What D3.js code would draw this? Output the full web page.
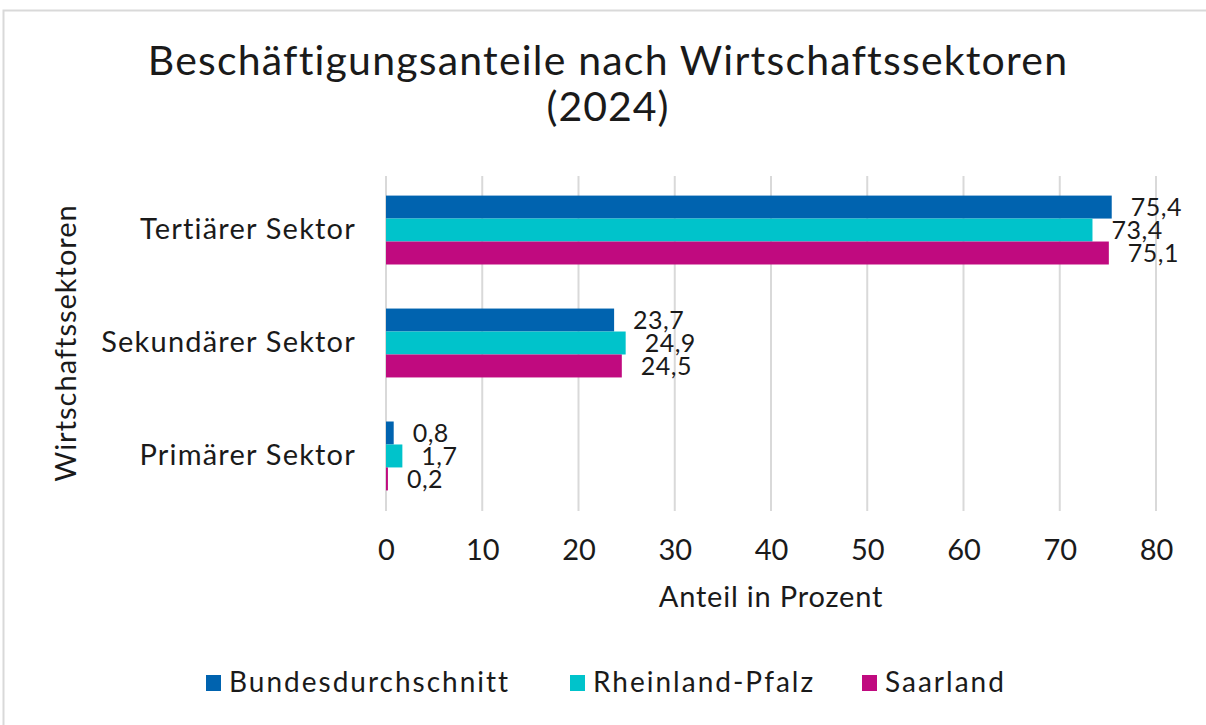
<!DOCTYPE html>
<html>
<head>
<meta charset="utf-8">
<script src="https://cdn.jsdelivr.net/npm/d3@7"></script>
<style>
  body { margin: 0; background: #fff; }
  text { font-family: "Lato", "Noto Sans", sans-serif; fill: #1a1a1a; }
</style>
</head>
<body>
<div id="chart"></div>
<script>
var categories = ["Tertiärer Sektor", "Sekundärer Sektor", "Primärer Sektor"];
var seriesNames = ["Bundesdurchschnitt", "Rheinland-Pfalz", "Saarland"];
var bundValues = [75.4, 23.7, 0.8];
var rlpValues = [73.4, 24.9, 1.7];
var saarValues = [75.1, 24.5, 0.2];
var xTicks = [0, 10, 20, 30, 40, 50, 60, 70, 80];

var seriesValues = [bundValues, rlpValues, saarValues];
var colors = ["#0063af", "#00c3cb", "#c00a7f"];

var width = 1206;
var height = 725;
var plot = { left: 386, right: 1156, top: 173, bottom: 513 };
var gridTop = 176, gridBottom = 511;

var svg = d3.select("#chart")
    .append("svg")
    .attr("width", width)
    .attr("height", height);

// outer border
svg.append("rect")
    .attr("x", 3.5).attr("y", 10.5)
    .attr("width", 1230).attr("height", 740)
    .attr("fill", "none")
    .attr("stroke", "#d9d9d9")
    .attr("stroke-width", 2);

// title
svg.append("text")
    .attr("x", 608).attr("y", 75)
    .attr("text-anchor", "middle")
    .style("font-size", "41px")
    .style("letter-spacing", "1.2px")
    .text("Beschäftigungsanteile nach Wirtschaftssektoren");
svg.append("text")
    .attr("x", 608).attr("y", 121)
    .attr("text-anchor", "middle")
    .style("font-size", "41px")
    .style("letter-spacing", "1px")
    .text("(2024)");

var x = d3.scaleLinear()
    .domain([0, 80])
    .range([plot.left, plot.right]);

var y = d3.scaleBand()
    .domain(categories)
    .range([plot.top, plot.bottom])
    .paddingInner(0.39)
    .paddingOuter(0.2);

var ySub = d3.scaleBand()
    .domain(seriesNames)
    .range([0, y.bandwidth()]);

// gridlines
svg.append("g")
    .selectAll("line")
    .data(xTicks)
    .enter()
    .append("line")
    .attr("x1", function (d) { return x(d); })
    .attr("x2", function (d) { return x(d); })
    .attr("y1", gridTop)
    .attr("y2", gridBottom)
    .attr("stroke", "#d9d9d9")
    .attr("stroke-width", 2);

// x axis
var xAxis = svg.append("g")
    .attr("transform", "translate(0," + gridBottom + ")")
    .call(d3.axisBottom(x).tickValues(xTicks).tickSize(0).tickPadding(28));
xAxis.select(".domain").remove();
xAxis.selectAll("text")
    .attr("dy", "0.71em")
    .style("font-size", "29px")
    .style("font-family", "Lato, sans-serif")
    .attr("fill", "#1a1a1a");

// y axis
var yAxis = svg.append("g")
    .attr("transform", "translate(" + plot.left + ",0)")
    .call(d3.axisLeft(y).tickSize(0).tickPadding(30));
yAxis.select(".domain").remove();
yAxis.selectAll("text")
    .style("font-size", "29px")
    .style("letter-spacing", "1.2px")
    .style("font-family", "Lato, sans-serif")
    .attr("fill", "#1a1a1a");

// bars
var groups = svg.selectAll(".group")
    .data(categories)
    .enter()
    .append("g")
    .attr("class", "group")
    .attr("transform", function (d) { return "translate(0," + y(d) + ")"; });

seriesNames.forEach(function (s, si) {
    groups.append("rect")
        .attr("x", x(0))
        .attr("y", ySub(s))
        .attr("width", function (d, i) { return x(seriesValues[si][i]) - x(0); })
        .attr("height", ySub.bandwidth())
        .attr("fill", colors[si]);

    groups.append("text")
        .attr("x", function (d, i) { return x(seriesValues[si][i]) + 19; })
        .attr("y", ySub(s) + ySub.bandwidth() / 2)
        .attr("dy", "0.36em")
        .style("font-size", "25px")
        .style("letter-spacing", "0.5px")
        .text(function (d, i) { return String(seriesValues[si][i]).replace(".", ","); });
});

// axis titles
svg.append("text")
    .attr("x", (plot.left + plot.right) / 2)
    .attr("y", 607)
    .attr("text-anchor", "middle")
    .style("font-size", "29px")
    .style("letter-spacing", "0.8px")
    .text("Anteil in Prozent");

svg.append("text")
    .attr("transform", "translate(76,343) rotate(-90)")
    .attr("text-anchor", "middle")
    .style("font-size", "29px")
    .style("letter-spacing", "1px")
    .text("Wirtschaftssektoren");

// legend
var legendX = [206, 570, 862];
var legend = svg.selectAll(".legend")
    .data(seriesNames)
    .enter()
    .append("g")
    .attr("class", "legend")
    .attr("transform", function (d, i) { return "translate(" + legendX[i] + ",692)"; });

legend.append("rect")
    .attr("x", 0).attr("y", -17)
    .attr("width", 15).attr("height", 16)
    .attr("fill", function (d, i) { return colors[i]; });

legend.append("text")
    .attr("x", 23)
    .style("font-size", "28px")
    .style("letter-spacing", "2px")
    .text(function (d) { return d; });
</script>
</body>
</html>
